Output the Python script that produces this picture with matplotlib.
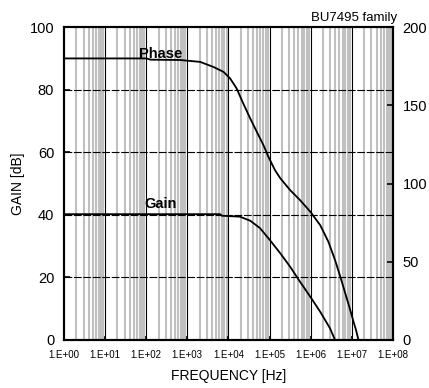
import matplotlib
matplotlib.use("Agg")
from matplotlib import pyplot as plt, ticker
import numpy as np

plt.rcParams['font.family'] = ['Liberation Sans', 'DejaVu Sans']

# data (frequency in Hz)
gain_freq = [1, 6.3e3, 6.9e3, 1.9e4, 3.39e4, 5.89e4, 1.02e5, 1.82e5, 3.16e5,
             5.50e5, 9.77e5, 1.70e6, 2.95e6, 3.89e6]
gain_db = [40.2, 40.2, 39.7, 39.4, 38.1, 35.7, 31.9, 27.7, 23.4, 18.6, 13.8,
           9.0, 3.7, 0]

phase_freq = [1, 1e2, 1.3e2, 6.6e2, 2.04e3, 4.27e3, 7.59e3, 1.10e4, 1.58e4,
              2.29e4, 3.39e4, 4.90e4, 7.08e4, 9.33e4, 1.35e5, 1.82e5, 3.16e5,
              5.50e5, 9.77e5, 1.70e6, 2.69e6, 3.89e6, 5.25e6, 6.92e6, 9.12e6,
              1.10e7, 1.26e7, 1.45e7]
phase_deg = [180, 180, 179.2, 179, 177.8, 174.6, 171.4, 167.2, 160.8, 151.2,
             141.6, 133, 124.6, 117.2, 108.6, 103.4, 95.8, 89.4, 82, 73.4,
             62.8, 51.2, 40.4, 29.8, 19.2, 11.6, 6.4, 0]

xtick_vals = [1e0, 1e1, 1e2, 1e3, 1e4, 1e5, 1e6, 1e7, 1e8]
xtick_labels = ['1.E+00', '1.E+01', '1.E+02', '1.E+03', '1.E+04',
                '1.E+05', '1.E+06', '1.E+07', '1.E+08']
gain_ticks = [0, 20, 40, 60, 80, 100]
phase_ticks = [0, 50, 100, 150, 200]

fig = plt.figure(figsize=(4.29, 3.88), dpi=100)
ax = fig.add_axes([0.149, 0.124, 0.767, 0.806])
ax.set_xscale('log')
ax.set_xlim(1, 1e8)
ax.set_ylim(0, 100)

# vertical grid: gray minor lines, black decade lines
minor = [m * d for d in xtick_vals[:-1] for m in range(2, 10)]
for f in minor:
    ax.axvline(f, color='#c0c0c0', lw=1.5, zorder=0)
for f in xtick_vals[1:-1]:
    ax.axvline(f, color='black', lw=0.8, zorder=1)
# horizontal grid
for g in gain_ticks[1:-1]:
    ax.axhline(g, color='black', lw=0.8, dashes=(7, 1.5), zorder=1)

ax.plot(gain_freq, gain_db, color='black', lw=1.3, zorder=3)

ax.set_xticks(xtick_vals)
ax.set_xticklabels(xtick_labels, fontsize=7)
ax.xaxis.set_minor_locator(ticker.NullLocator())
ax.set_yticks(gain_ticks)
ax.tick_params(axis='y', labelsize=10.5, direction='in', length=4, width=1.2, pad=7)
ax.tick_params(axis='x', direction='in', length=3, width=1.2, pad=7)
for s in ax.spines.values():
    s.set_linewidth(1.5)

ax.set_xlabel('FREQUENCY [Hz]', fontsize=10, labelpad=7)
ax.set_ylabel('GAIN [dB]', fontsize=10, labelpad=3)

ax2 = ax.twinx()
ax2.set_ylim(0, 200)
ax2.plot(phase_freq, phase_deg, color='black', lw=1.3, zorder=3)
ax2.set_yticks(phase_ticks)
ax2.tick_params(axis='y', labelsize=10.5, direction='in', length=4, width=1.2, pad=7)
for s in ax2.spines.values():
    s.set_linewidth(1.5)

ax.text(2.2e2, 91.4, 'Phase', fontsize=10.5, fontweight='bold',
        ha='center', va='center', zorder=4)
ax.text(2.2e2, 43.4, 'Gain', fontsize=10.5, fontweight='bold',
        ha='center', va='center', zorder=4)
fig.text(397 / 429, 1 - 18 / 388, 'BU7495 family', fontsize=9.5,
         ha='right', va='center')

fig.savefig('out.png', dpi=100)
